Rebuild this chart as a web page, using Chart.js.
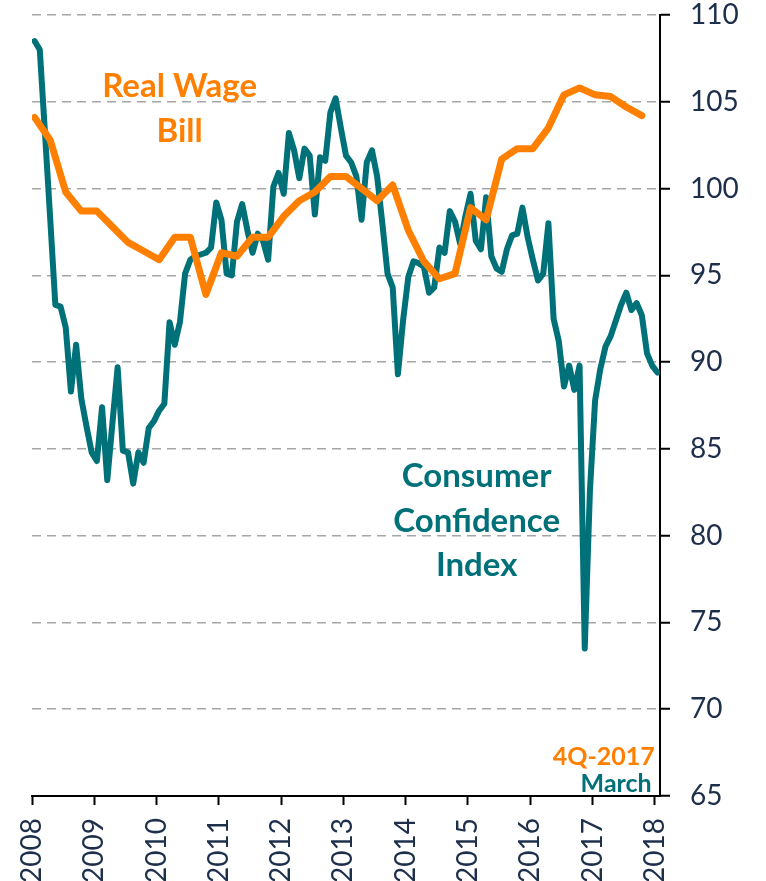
<!DOCTYPE html>
<html>
<head>
<meta charset="utf-8">
<script src="https://cdn.jsdelivr.net/npm/chart.js@4.4.1/dist/chart.umd.min.js"></script>
<style>
  html, body { margin: 0; padding: 0; background: #fff; overflow: hidden; }
  #wrap { width: 766px; height: 881px; position: relative; }
</style>
</head>
<body>
<div id="wrap"><canvas id="chart"></canvas></div>
<script>
const years = [2008, 2009, 2010, 2011, 2012, 2013, 2014, 2015, 2016, 2017, 2018];
const yTicks = [65, 70, 75, 80, 85, 90, 95, 100, 105, 110];

// monthly, Jan 2008 .. Jan 2018
const consumerConfidence = [
    108.5, 108.0, 103.2, 98.3, 93.3, 93.2, 92.0, 88.3, 91.0, 87.9, 86.3, 84.8,
    84.3, 87.4, 83.2, 86.5, 89.7, 84.9, 84.8, 83.0, 84.8, 84.2, 86.2, 86.6,
    87.2, 87.6, 92.3, 91.0, 92.3, 95.1, 95.9, 96.1, 96.2, 96.3, 96.6, 99.2,
    98.2, 95.1, 95.0, 98.1, 99.1, 97.6, 96.3, 97.4, 97.0, 95.9, 100.1, 100.9,
    99.7, 103.2, 102.2, 100.6, 102.3, 101.9, 98.5, 101.8, 101.6, 104.4, 105.2, 103.5,
    101.9, 101.5, 100.7, 98.2, 101.5, 102.2, 100.7, 98.0, 95.1, 94.3, 89.3, 92.4,
    94.9, 95.8, 95.7, 95.5, 94.0, 94.3, 96.6, 96.3, 98.7, 98.1, 96.8, 98.4,
    99.7, 97.0, 96.5, 99.5, 96.1, 95.4, 95.2, 96.5, 97.3, 97.4, 98.9, 97.2,
    95.9, 94.7, 95.1, 98.0, 92.5, 91.2, 88.6, 89.8, 88.4, 89.8, 73.5, 82.6,
    87.8, 89.6, 90.9, 91.5, 92.4, 93.3, 94.0, 93.0, 93.4, 92.7, 90.5, 89.8,
    89.4
];

// quarterly, 1Q-2008 .. 4Q-2017
const realWageBill = [
    104.1, 102.8, 99.8, 98.7, 98.7, 97.8, 96.9, 96.4, 95.9, 97.2,
    97.2, 93.9, 96.3, 96.1, 97.2, 97.2, 98.4, 99.3, 99.8, 100.7,
    100.7, 100.0, 99.3, 100.2, 97.6, 95.8, 94.8, 95.1, 98.9, 98.2,
    101.7, 102.3, 102.3, 103.5, 105.4, 105.8, 105.4, 105.3, 104.7, 104.2
];

const teal = '#007179';
const orange = '#ff7f00';
const navy = '#1d2f4b';

const ccPoints = consumerConfidence.map((v, i) => ({ x: 2008 + (i + 0.5) / 12, y: v }));
const rwPoints = realWageBill.map((v, i) => ({ x: 2008 + (3 * i + 0.5) / 12, y: v }));

// text notes placed in data units (x in years, y = baseline value)
const notes = [
    { lines: ['Real Wage', 'Bill'], x: 2010.37, y: [105.28, 102.68], color: orange, size: 33, align: 'center' },
    { lines: ['Consumer', 'Confidence', 'Index'], x: 2015.14, y: [82.81, 80.22, 77.68], color: teal, size: 33, align: 'center' },
    { lines: ['4Q-2017'], x: 2018.0, y: [66.8], color: orange, size: 25, align: 'right' },
    { lines: ['March'], x: 2017.95, y: [65.24], color: teal, size: 25, align: 'right' }
];

const notesPlugin = {
    id: 'notes',
    afterDraw(chart) {
        const ctx = chart.ctx;
        const xs = chart.scales.x, ys = chart.scales.y;
        ctx.save();
        notes.forEach(n => {
            ctx.fillStyle = n.color;
            ctx.font = 'bold ' + n.size + 'px Lato';
            ctx.textAlign = n.align;
            ctx.textBaseline = 'alphabetic';
            n.lines.forEach((t, i) => {
                ctx.fillText(t, xs.getPixelForValue(n.x), ys.getPixelForValue(n.y[i]));
            });
        });
        ctx.restore();
    }
};

new Chart(document.getElementById('chart'), {
    type: 'line',
    data: {
        datasets: [{
            label: 'Real Wage Bill',
            data: rwPoints,
            borderColor: orange,
            borderWidth: 7,
            pointRadius: 0,
            tension: 0,
            borderJoinStyle: 'round',
            borderCapStyle: 'round'
        }, {
            label: 'Consumer Confidence Index',
            data: ccPoints,
            borderColor: teal,
            borderWidth: 6,
            pointRadius: 0,
            tension: 0,
            borderJoinStyle: 'round',
            borderCapStyle: 'round'
        }]
    },
    options: {
        responsive: true,
        maintainAspectRatio: false,
        animation: false,
        layout: { padding: { left: 32, top: 15, right: 0, bottom: 0 } },
        plugins: { legend: { display: false }, tooltip: { enabled: false } },
        scales: {
            x: {
                type: 'linear',
                position: 'bottom',
                min: 2008,
                max: 2018 + 1 / 12,
                afterBuildTicks: s => { s.ticks = years.map(v => ({ value: v })); },
                afterFit: s => { s.height = 85; s.paddingLeft = 0; s.paddingRight = 0; },
                grid: { drawOnChartArea: false, drawTicks: true, tickLength: 9, tickWidth: 2, tickColor: '#000' },
                border: { display: true, color: '#000', width: 2 },
                ticks: {
                    autoSkip: false,
                    minRotation: 90,
                    maxRotation: 90,
                    padding: 13,
                    color: navy,
                    font: { family: 'Lato', size: 28, lineHeight: 1 },
                    callback: v => String(v)
                }
            },
            y: {
                position: 'right',
                min: 65,
                max: 110,
                afterBuildTicks: s => { s.ticks = yTicks.map(v => ({ value: v })); },
                afterFit: s => { s.width = 106; s.paddingTop = 0; s.paddingBottom = 0; },
                grid: {
                    color: c => (c.tick && c.tick.value === 65) ? 'rgba(0,0,0,0)' : '#a6a6a6',
                    lineWidth: 1.5,
                    tickLength: 10,
                    tickWidth: 2,
                    tickColor: '#000',
                    tickBorderDash: []
                },
                border: { display: true, color: '#000', width: 2, dash: [9, 6] },
                ticks: {
                    padding: 20,
                    color: navy,
                    font: { family: 'Lato', size: 28, lineHeight: 1 }
                }
            }
        }
    },
    plugins: [notesPlugin]
});
</script>
</body>
</html>
